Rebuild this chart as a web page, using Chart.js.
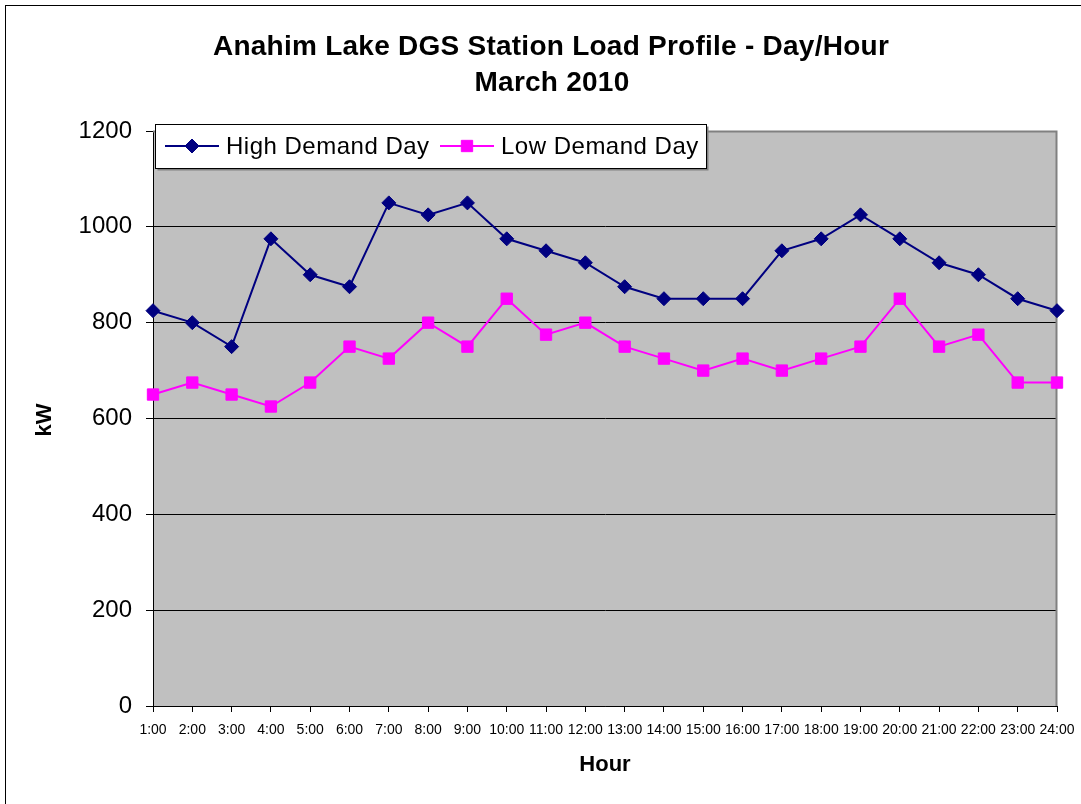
<!DOCTYPE html>
<html>
<head>
<meta charset="utf-8">
<script src="https://cdn.jsdelivr.net/npm/chart.js@4/dist/chart.umd.min.js"></script>
<style>
html,body{margin:0;padding:0;background:#fff;}
#wrap{position:relative;width:1081px;height:804px;}
</style>
</head>
<body>
<div id="wrap"><canvas id="c" width="1081" height="804"></canvas></div>
<script>
const titleLines = ["Anahim Lake DGS Station Load Profile - Day/Hour", "March 2010"];
const xTitle = "Hour";
const yTitle = "kW";
const hours = ["1:00","2:00","3:00","4:00","5:00","6:00","7:00","8:00","9:00","10:00","11:00","12:00",
               "13:00","14:00","15:00","16:00","17:00","18:00","19:00","20:00","21:00","22:00","23:00","24:00"];
const highDemand = [825,800,750,975,900,875,1050,1025,1050,975,950,925,875,850,850,850,950,975,1025,975,925,900,850,825];
const lowDemand  = [650,675,650,625,675,750,725,800,750,850,775,800,750,725,700,725,700,725,750,850,750,775,675,675];
const yTicks = [0,200,400,600,800,1000,1200];

const FONT = "'Liberation Sans', Arial, sans-serif";

const decor = {
  id: 'decor',
  beforeDraw(chart) {
    const {ctx, chartArea: a} = chart;
    ctx.save();
    ctx.fillStyle = '#fff';
    ctx.fillRect(0, 0, chart.width, chart.height);
    ctx.strokeStyle = '#000';
    ctx.lineWidth = 1;
    ctx.strokeRect(5.5, 5.5, 1100, 900);
    ctx.fillStyle = '#C0C0C0';
    ctx.fillRect(a.left, a.top, a.right - a.left, a.bottom - a.top);
    ctx.restore();
  },
  beforeDatasetsDraw(chart) {
    const {ctx, chartArea: a} = chart;
    ctx.save();
    ctx.strokeStyle = '#808080';
    ctx.lineWidth = 2;
    ctx.beginPath();
    ctx.moveTo(a.left, a.top + 0.5);
    ctx.lineTo(a.right - 0.5, a.top + 0.5);
    ctx.lineTo(a.right - 0.5, a.bottom);
    ctx.stroke();
    ctx.restore();
  },
  afterDraw(chart) {
    const ctx = chart.ctx;
    ctx.save();
    ctx.fillStyle = '#000';
    ctx.textAlign = 'center';
    ctx.textBaseline = 'middle';
    ctx.font = "bold 28px " + FONT;
    ctx.letterSpacing = '0.25px';
    ctx.fillText(titleLines[0], 551, 47);
    ctx.fillText(titleLines[1], 552, 83);
    ctx.letterSpacing = '0px';
    ctx.font = "bold 22px " + FONT;
    ctx.fillText(xTitle, 605, 765);
    ctx.translate(45, 420);
    ctx.rotate(-Math.PI / 2);
    ctx.fillText(yTitle, 0, 0);
    ctx.restore();

    // legend box
    ctx.save();
    const lx = 155.5, ly = 124.5, lw = 551, lh = 44;
    ctx.fillStyle = '#808080';
    ctx.fillRect(lx + 2, ly + 2, lw, lh);
    ctx.fillStyle = '#fff';
    ctx.fillRect(lx, ly, lw, lh);
    ctx.strokeStyle = '#000';
    ctx.lineWidth = 1;
    ctx.strokeRect(lx, ly, lw, lh);
    ctx.font = "24px " + FONT;
    ctx.letterSpacing = '0.5px';
    ctx.textBaseline = 'middle';
    ctx.textAlign = 'left';
    const starts = [165, 440];
    const cy = 146;
    chart.data.datasets.forEach((ds, i) => {
      const x0 = starts[i];
      ctx.strokeStyle = ds.borderColor;
      ctx.lineWidth = 2;
      ctx.beginPath();
      ctx.moveTo(x0, cy);
      ctx.lineTo(x0 + 54, cy);
      ctx.stroke();
      ctx.fillStyle = ds.pointBackgroundColor;
      ctx.strokeStyle = ds.pointBorderColor;
      ctx.lineWidth = 1;
      Chart.helpers.drawPoint(ctx, {pointStyle: ds.pointStyle, radius: ds.pointStyle === 'rect' ? 8 : 7, rotation: 0, borderWidth: 1}, x0 + 27, cy);
      ctx.fillStyle = '#000';
      ctx.fillText(ds.label, x0 + 61, cy + 1);
    });
    ctx.restore();
  }
};

new Chart(document.getElementById('c'), {
  type: 'line',
  data: {
    labels: hours,
    datasets: [
      {
        label: 'High Demand Day',
        data: highDemand,
        borderColor: '#000080',
        backgroundColor: '#000080',
        pointBackgroundColor: '#000080',
        pointBorderColor: '#000080',
        borderWidth: 2,
        pointStyle: 'rectRot',
        pointRadius: 7,
        pointBorderWidth: 1,
        tension: 0,
        fill: false
      },
      {
        label: 'Low Demand Day',
        data: lowDemand,
        borderColor: '#FF00FF',
        backgroundColor: '#FF00FF',
        pointBackgroundColor: '#FF00FF',
        pointBorderColor: '#FF00FF',
        borderWidth: 2,
        pointStyle: 'rect',
        pointRadius: 8,
        pointBorderWidth: 1,
        tension: 0,
        fill: false
      }
    ]
  },
  options: {
    responsive: false,
    animation: false,
    devicePixelRatio: 1,
    layout: { padding: { left: 0, top: 131, right: 24, bottom: 0 } },
    plugins: { legend: { display: false }, title: { display: false }, tooltip: { enabled: false } },
    scales: {
      x: {
        type: 'category',
        offset: false,
        afterFit(s) { s.height = 98; s.paddingRight = 0; },
        grid: { display: true, drawOnChartArea: false, drawTicks: true, tickLength: 6, color: '#000', lineWidth: 1 },
        border: { display: true, color: '#000', width: 1 },
        ticks: { color: '#000', font: { family: FONT, size: 14 }, maxRotation: 0, minRotation: 0, autoSkip: false, padding: 10 }
      },
      y: {
        min: 0, max: 1200,
        afterBuildTicks(s) { s.ticks = yTicks.map(v => ({value: v})); },
        afterFit(s) { s.width = 153; },
        grid: { display: true, drawOnChartArea: true, drawTicks: true, tickLength: 7, color: '#000', lineWidth: 1 },
        border: { display: true, color: '#000', width: 1 },
        ticks: { color: '#000', font: { family: FONT, size: 24 }, padding: 14, callback: v => String(v) }
      }
    }
  },
  plugins: [decor]
});
</script>
</body>
</html>
